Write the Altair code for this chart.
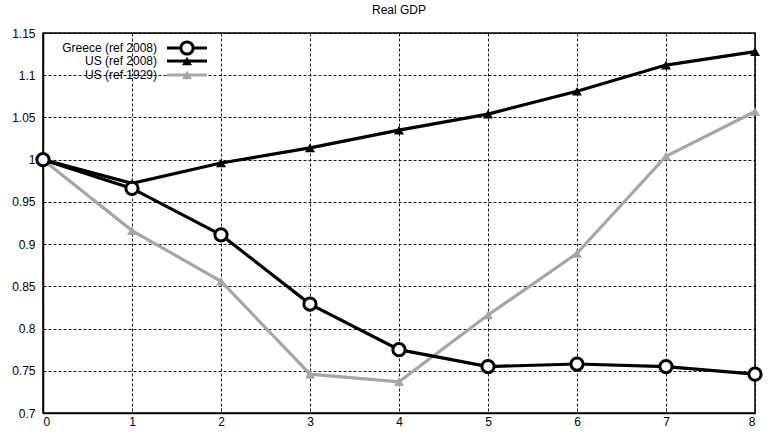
import altair as alt
import pandas as pd

# Years since the reference year, and real GDP relative to that year
years = [0, 1, 2, 3, 4, 5, 6, 7, 8]
greece_2008 = [1.000, 0.966, 0.911, 0.829, 0.775, 0.755, 0.758, 0.755, 0.746]
us_2008 = [1.000, 0.972, 0.996, 1.014, 1.035, 1.054, 1.081, 1.112, 1.128]
us_1929 = [1.000, 0.916, 0.856, 0.746, 0.737, 0.816, 0.889, 1.004, 1.057]

series_names = ["Greece (ref 2008)", "US (ref 2008)", "US (ref 1929)"]
y_ticks = [0.7, 0.75, 0.8, 0.85, 0.9, 0.95, 1.0, 1.05, 1.1, 1.15]

W, H = 712, 380
FONT = "Liberation Sans"
BLACK = "#000000"
GREY = "#a6a6a6"

x_scale = alt.Scale(domain=[0, 8], nice=False, zero=False)
y_scale = alt.Scale(domain=[0.7, 1.15], nice=False, zero=False)

x_enc = alt.X("year:Q", scale=x_scale,
              axis=alt.Axis(values=years, format="d", title=None))
y_enc = alt.Y("gdp:Q", scale=y_scale,
              axis=alt.Axis(values=y_ticks, format=".2~f", title=None))


def frame(values):
    return pd.DataFrame({"year": years, "gdp": values})


def series(values, color, shape, filled, size, stroke_w):
    base = alt.Chart(frame(values)).encode(x=x_enc, y=y_enc)
    line = base.mark_line(color=color, strokeWidth=3.2)
    pts = base.mark_point(shape=shape, filled=filled, size=size,
                          color=color, fill=color if filled else "white",
                          strokeWidth=stroke_w, opacity=1)
    return line + pts


s1929 = series(us_1929, GREY, "triangle-up", True, 100, 1)
s2008 = series(us_2008, BLACK, "triangle-up", True, 100, 1)
sgr = series(greece_2008, BLACK, "circle", False, 150, 3)

# Legend inside the top-left corner: label on the left, line sample on the right
leg_y = [15, 28, 42]
leg_colors = [BLACK, BLACK, GREY]
leg_shapes = ["circle", "triangle-up", "triangle-up"]

legend_layers = []
for i, name in enumerate(series_names):
    d = pd.DataFrame({"name": [name]})
    legend_layers.append(
        alt.Chart(d).mark_text(align="right", baseline="middle", font=FONT,
                               fontSize=12, color=BLACK)
        .encode(x=alt.value(114), y=alt.value(leg_y[i]), text="name:N")
    )
    legend_layers.append(
        alt.Chart(d).mark_rule(color=leg_colors[i], strokeWidth=3.2)
        .encode(x=alt.value(124), x2=alt.value(164), y=alt.value(leg_y[i]))
    )
    if leg_shapes[i] == "circle":
        legend_layers.append(
            alt.Chart(d).mark_point(shape="circle", filled=False, size=150,
                                    color=BLACK, fill="white", strokeWidth=3,
                                    opacity=1)
            .encode(x=alt.value(144), y=alt.value(leg_y[i]))
        )
    else:
        legend_layers.append(
            alt.Chart(d).mark_point(shape="triangle-up", filled=True, size=100,
                                    color=leg_colors[i], opacity=1)
            .encode(x=alt.value(144), y=alt.value(leg_y[i]))
        )

chart = alt.layer(s1929, s2008, sgr, *legend_layers).properties(
    width=W,
    height=H,
    title=alt.TitleParams("Real GDP", font=FONT, fontSize=12,
                          fontWeight="normal", color=BLACK, anchor="middle",
                          offset=10),
    autosize=alt.AutoSizeParams(type="none"),
    padding={"left": 43, "top": 33, "right": 15, "bottom": 23},
).configure_view(
    stroke=BLACK, strokeWidth=1.5
).configure_axis(
    labelFont=FONT, labelFontSize=12, labelColor=BLACK,
    grid=True, gridColor=BLACK, gridDash=[3, 2], gridWidth=1, gridOpacity=0.9,
    domain=True, domainColor=BLACK, domainWidth=1.5,
    ticks=False, labelPadding=8,
).configure_axisX(labelPadding=3)

chart.save("out.html", embed_options={"renderer": "svg", "actions": False})
